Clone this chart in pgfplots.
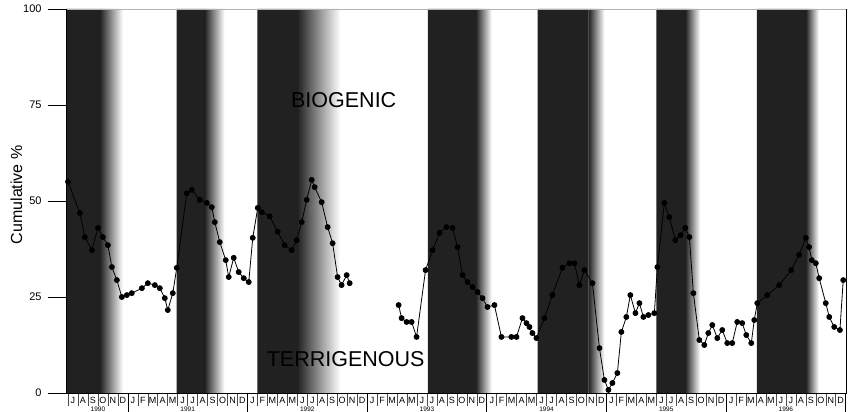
\documentclass[border=0pt]{standalone}
\usepackage{fontspec}
\setmainfont{Liberation Sans}
\usepackage{pgfplots}
\pgfplotsset{compat=1.18}
\definecolor{band}{gray}{0.13}
\begin{document}
\begin{tikzpicture}
\begin{axis}[
  at={(66.7pt,19pt)}, anchor=south west,
  scale only axis, width=779.8pt, height=384pt,
  xmin=5.87, xmax=84.08, ymin=0, ymax=100,
  clip=false,
  axis line style={draw=none},
  tick align=outside, major tick length=19pt,
  ytick={0,25,50,75,100}, ytick pos=left,
  ytick style={black, line width=0.6pt},
  xtick={6.5,7.5,...,83.5},
  xticklabels={J,A,S,O,N,D,
    J,F,M,A,M,J,J,A,S,O,N,D, J,F,M,A,M,J,J,A,S,O,N,D,
    J,F,M,A,M,J,J,A,S,O,N,D, J,F,M,A,M,J,J,A,S,O,N,D,
    J,F,M,A,M,J,J,A,S,O,N,D, J,F,M,A,M,J,J,A,S,O,N,D},
  xtick style={draw=none},
  xticklabel style={font=\fontsize{9}{9}\selectfont, inner sep=0pt, anchor=north, text height=6.5pt, text depth=0pt, yshift=15pt},
  yticklabel style={font=\fontsize{11}{11}\selectfont, inner sep=0pt, anchor=east, xshift=-6pt},
  /pgf/number format/assume math mode=true,
  ylabel={Cumulative \%},
  ylabel style={font=\fontsize{16}{16}\selectfont, at={(axis description cs:-0.0644,0.516)}, anchor=center, inner sep=0pt},
]
% seasonal bands: solid dark part, then fade to white
\addplot[draw=none, fill=band] coordinates {(5.87,0)(5.87,100)(9.2,100)(9.2,0)} \closedcycle;
\addplot[draw=none, left color=band, right color=white] coordinates {(9.2,0)(9.2,100)(11.5,100)(11.5,0)} \closedcycle;
\addplot[draw=none, fill=band] coordinates {(16.9,0)(16.9,100)(19.7,100)(19.7,0)} \closedcycle;
\addplot[draw=none, left color=band, right color=white] coordinates {(19.7,0)(19.7,100)(21.7,100)(21.7,0)} \closedcycle;
\addplot[draw=none, fill=band] coordinates {(25.0,0)(25.0,100)(29.0,100)(29.0,0)} \closedcycle;
\addplot[draw=none, left color=band, right color=white] coordinates {(29.0,0)(29.0,100)(33.3,100)(33.3,0)} \closedcycle;
\addplot[draw=none, fill=band] coordinates {(42.1,0)(42.1,100)(46.9,100)(46.9,0)} \closedcycle;
\addplot[draw=none, left color=band, right color=white] coordinates {(46.9,0)(46.9,100)(48.5,100)(48.5,0)} \closedcycle;
\addplot[draw=none, fill=band] coordinates {(53.1,0)(53.1,100)(58.2,100)(58.2,0)} \closedcycle;
\addplot[draw=none, left color=band, right color=white] coordinates {(58.2,0)(58.2,100)(59.8,100)(59.8,0)} \closedcycle;
\addplot[draw=none, fill=band] coordinates {(65.0,0)(65.0,100)(67.9,100)(67.9,0)} \closedcycle;
\addplot[draw=none, left color=band, right color=white] coordinates {(67.9,0)(67.9,100)(69.4,100)(69.4,0)} \closedcycle;
\addplot[draw=none, fill=band] coordinates {(75.1,0)(75.1,100)(80.0,100)(80.0,0)} \closedcycle;
\addplot[draw=none, left color=band, right color=white] coordinates {(80.0,0)(80.0,100)(81.3,100)(81.3,0)} \closedcycle;

\node[font=\fontsize{21.5}{21.5}\selectfont, inner sep=0pt, anchor=center] at (axis cs:33.65,76.4) {BIOGENIC};
\node[font=\fontsize{21.5}{21.5}\selectfont, inner sep=0pt, anchor=center] at (axis cs:33.85,8.7) {TERRIGENOUS};

% month cell separators and year boundaries
\addplot[ycomb, no markers, black!70, line width=0.5pt] coordinates {
(6,-3.4)(7,-3.4)(8,-3.4)(9,-3.4)(10,-3.4)(11,-3.4)
(13,-3.4)(14,-3.4)(15,-3.4)(16,-3.4)(17,-3.4)(18,-3.4)(19,-3.4)(20,-3.4)(21,-3.4)(22,-3.4)(23,-3.4)
(25,-3.4)(26,-3.4)(27,-3.4)(28,-3.4)(29,-3.4)(30,-3.4)(31,-3.4)(32,-3.4)(33,-3.4)(34,-3.4)(35,-3.4)
(37,-3.4)(38,-3.4)(39,-3.4)(40,-3.4)(41,-3.4)(42,-3.4)(43,-3.4)(44,-3.4)(45,-3.4)(46,-3.4)(47,-3.4)
(49,-3.4)(50,-3.4)(51,-3.4)(52,-3.4)(53,-3.4)(54,-3.4)(55,-3.4)(56,-3.4)(57,-3.4)(58,-3.4)(59,-3.4)
(61,-3.4)(62,-3.4)(63,-3.4)(64,-3.4)(65,-3.4)(66,-3.4)(67,-3.4)(68,-3.4)(69,-3.4)(70,-3.4)(71,-3.4)
(73,-3.4)(74,-3.4)(75,-3.4)(76,-3.4)(77,-3.4)(78,-3.4)(79,-3.4)(80,-3.4)(81,-3.4)(82,-3.4)(83,-3.4)};
\addplot[ycomb, no markers, black, line width=0.6pt] coordinates {
(12,-6)(24,-6)(36,-6)(48,-6)(60,-6)(72,-6)(84,-6)};

% year labels
\node[font=\fontsize{6.5}{6.5}\selectfont, inner sep=0pt, anchor=north, text height=4.7pt, text depth=0pt] at (axis cs:9,0) [yshift=-13.4pt] {1990};
\node[font=\fontsize{6.5}{6.5}\selectfont, inner sep=0pt, anchor=north, text height=4.7pt, text depth=0pt] at (axis cs:18,0) [yshift=-13.4pt] {1991};
\node[font=\fontsize{6.5}{6.5}\selectfont, inner sep=0pt, anchor=north, text height=4.7pt, text depth=0pt] at (axis cs:30,0) [yshift=-13.4pt] {1992};
\node[font=\fontsize{6.5}{6.5}\selectfont, inner sep=0pt, anchor=north, text height=4.7pt, text depth=0pt] at (axis cs:42,0) [yshift=-13.4pt] {1993};
\node[font=\fontsize{6.5}{6.5}\selectfont, inner sep=0pt, anchor=north, text height=4.7pt, text depth=0pt] at (axis cs:54,0) [yshift=-13.4pt] {1994};
\node[font=\fontsize{6.5}{6.5}\selectfont, inner sep=0pt, anchor=north, text height=4.7pt, text depth=0pt] at (axis cs:66,0) [yshift=-13.4pt] {1995};
\node[font=\fontsize{6.5}{6.5}\selectfont, inner sep=0pt, anchor=north, text height=4.7pt, text depth=0pt] at (axis cs:78,0) [yshift=-13.4pt] {1996};

% data: segment 1 (Jul 1990 - Dec 1992)
\addplot[black, line width=0.8pt, mark=*, mark size=2.5pt, mark options={fill=black}] coordinates {
(6.0,55.0)(7.19,46.9)(7.69,40.6)(8.40,37.2)(9.00,43.0)(9.50,40.6)(10.00,38.5)
(10.40,32.8)(10.90,29.4)(11.40,25.0)(11.90,25.5)(12.40,26.0)(13.41,27.3)(14.01,28.6)
(14.71,28.1)(15.21,27.3)(15.71,24.7)(16.01,21.6)(16.51,26.0)(16.91,32.6)(17.91,52.0)
(18.42,52.9)(19.22,50.3)(19.92,49.5)(20.42,48.4)(20.72,44.5)(21.22,39.3)(21.82,34.6)
(22.12,30.2)(22.62,35.2)(23.12,31.5)(23.63,29.9)(24.13,28.9)(24.53,40.4)(25.03,48.2)
(25.43,47.1)(26.23,46.0)(27.03,42.0)(27.73,38.5)(28.43,37.2)(28.93,39.8)(29.44,44.5)
(29.94,50.3)(30.44,55.5)(30.74,53.6)(31.44,49.7)(32.04,43.2)(32.54,39.0)(33.04,30.2)
(33.44,28.1)(33.95,30.7)(34.25,28.6)};

% data: segment 2 (Mar 1993 - Dec 1996)
\addplot[black, line width=0.8pt, mark=*, mark size=2.5pt, mark options={fill=black}] coordinates {
(39.16,22.9)(39.46,19.5)(39.96,18.5)(40.46,18.5)(40.96,14.6)(41.86,32.0)(42.56,37.2)
(43.26,41.7)(43.96,43.2)(44.57,43.0)(45.07,38.0)(45.57,30.7)(46.07,28.9)(46.57,27.6)
(47.07,26.3)(47.57,24.7)(48.07,22.4)(48.77,22.9)(49.47,14.6)(50.47,14.6)(50.98,14.6)
(51.58,19.5)(51.98,18.2)(52.28,17.2)(52.58,15.6)(52.98,14.3)(53.78,19.5)(54.58,25.5)
(55.59,32.6)(56.29,33.8)(56.79,33.8)(57.29,28.1)(57.79,32.0)(58.60,28.6)(59.30,11.7)
(59.80,3.4)(60.20,0.8)(60.60,2.6)(61.10,5.2)(61.50,15.9)(62.00,19.8)(62.40,25.5)
(62.91,20.8)(63.31,23.4)(63.71,19.8)(64.21,20.3)(64.81,20.8)(65.11,32.8)(65.81,49.5)
(66.31,45.8)(66.91,39.8)(67.42,41.1)(67.92,43.0)(68.32,40.6)(68.72,26.0)(69.32,13.8)
(69.82,12.5)(70.22,15.6)(70.62,17.7)(71.12,14.3)(71.62,16.4)(72.12,13.0)(72.62,13.0)
(73.12,18.5)(73.62,18.2)(74.03,15.1)(74.53,13.0)(74.83,19.0)(75.13,23.4)(76.13,25.5)
(77.33,28.1)(78.53,32.0)(79.33,36.0)(80.00,40.4)(80.33,38.0)(80.60,34.6)(81.00,33.8)
(81.34,29.9)(82.00,23.4)(82.35,19.8)(82.85,17.2)(83.42,16.4)(83.75,29.4)};

% frame
\draw[black!30, line width=0.5pt] (rel axis cs:0,1) -- (rel axis cs:1,1);
\draw[black, line width=0.7pt] (rel axis cs:0,1) -- (rel axis cs:0,0) -- (rel axis cs:1,0) -- (rel axis cs:1,1);
\end{axis}
\pgfresetboundingbox
\useasboundingbox (0,0) rectangle (851pt,412pt);
\end{tikzpicture}
\end{document}
